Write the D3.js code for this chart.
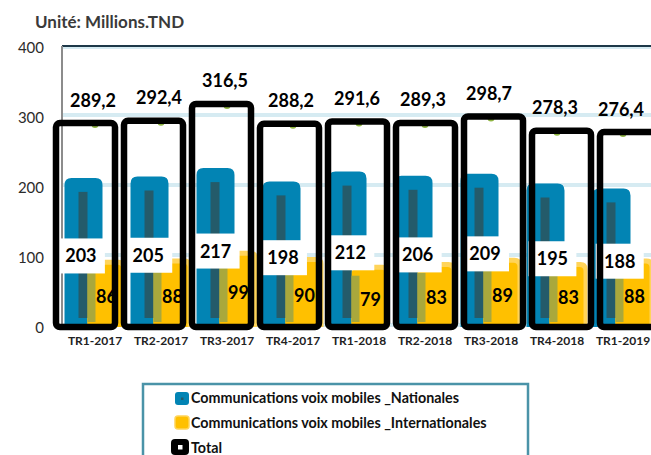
<!DOCTYPE html>
<html><head><meta charset="utf-8">
<script src="https://cdn.jsdelivr.net/npm/d3@7/dist/d3.min.js"></script>
<style>
html,body{margin:0;padding:0;background:#fff;}
svg{display:block;font-family:Lato,"Open Sans",sans-serif;}
</style></head>
<body>
<svg id="c" width="651" height="455"></svg>
<script>
const categories = ["TR1-2017","TR2-2017","TR3-2017","TR4-2017","TR1-2018","TR2-2018","TR3-2018","TR4-2018","TR1-2019"];
const nationales = [203,205,217,198,212,206,209,195,188];
const internationales = [86,88,99,90,79,83,89,83,88];
const total = [289.2,292.4,316.5,288.2,291.6,289.3,298.7,278.3,276.4];
const yTicks = [0,100,200,300,400];
const totalLabels = ["289,2","292,4","316,5","288,2","291,6","289,3","298,7","278,3","276,4"];
const seriesNames = ["Communications voix mobiles _Nationales","Communications voix mobiles _Internationales","Total"];

const svg = d3.select("#c");
const y = d3.scaleLinear().domain([0,400]).range([327,47]);
const x = d3.scaleBand().domain(categories).range([62,656]);
const xT = d3.scaleBand().domain(categories).range([51.5,663.5]);
const xL = d3.scaleBand().domain(categories).range([47.2,653.4]);
const bw = x.bandwidth();
const cx = c => x(c) + bw/2;
const cb = c => cx(c) - 11.5;
const cT = c => xT(c) + xT.bandwidth()/2;
const cL = c => xL(c) + xL.bandwidth()/2;

const data = categories.map((c,i)=>({c, n:nationales[i], it:internationales[i], t:total[i], tl:totalLabels[i]}));

// title
svg.append("text").attr("x",35).attr("y",28).attr("font-size",17).attr("font-weight","bold")
  .attr("fill","#3a3a3a").text("Unité: Millions.TND");

// gridlines
svg.append("g").selectAll("line").data(yTicks.slice(0,4)).join("line")
  .attr("x1",62).attr("x2",651).attr("y1",d=>y(d)-2).attr("y2",d=>y(d)-2)
  .attr("stroke","#d6ebf2").attr("stroke-width",4);

// top border & y axis line
svg.append("line").attr("x1",62).attr("x2",651).attr("y1",y(400)+1).attr("y2",y(400)+1).attr("stroke","#d6ebf2").attr("stroke-width",2);
svg.append("line").attr("x1",62).attr("x2",651).attr("y1",y(400)-1).attr("y2",y(400)-1).attr("stroke","#1d3848").attr("stroke-width",2);
svg.append("line").attr("x1",62).attr("x2",62).attr("y1",y(400)-1).attr("y2",y(0)).attr("stroke","#8c8c8c").attr("stroke-width",2);

// y axis labels
const ya = svg.append("g").attr("transform","translate(52,0)")
  .call(d3.axisLeft(y).tickValues(yTicks).tickSize(0).tickPadding(8));
ya.select(".domain").remove();
ya.selectAll("text").attr("font-size",15).attr("font-family","Lato,sans-serif").attr("fill","#2b2b2b").attr("dy","0.35em");

// x axis labels
const xa = svg.append("g").attr("transform","translate(0,336)")
  .call(d3.axisBottom(x).tickSize(0).tickPadding(0));
xa.select(".domain").remove();
xa.selectAll("text").attr("font-size",12).attr("font-weight","bold").attr("font-family","Lato,sans-serif").attr("fill","#222").attr("dy","0.71em");

function topRounded(x0,x1,yt,yb,r){
  return `M${x0},${yb}L${x0},${yt+r}Q${x0},${yt} ${x0+r},${yt}L${x1-r},${yt}Q${x1},${yt} ${x1},${yt+r}L${x1},${yb}Z`;
}

const g = svg.append("g");
// blue glow bars
g.selectAll(".bn").data(data).join("path").attr("class","bn")
  .attr("d",d=>topRounded(cb(d.c)-19, cb(d.c)+19, y(d.n)-7, y(0), 7))
  .attr("fill","#0284b4");
// yellow glow bars (light outer, solid inner)
g.selectAll(".bil").data(data).join("path").attr("class","bil")
  .attr("d",d=>topRounded(cb(d.c)+4, cb(d.c)+42, y(d.it)-7, y(0), 7))
  .attr("fill","#ffd45a");
g.selectAll(".bi").data(data).join("path").attr("class","bi")
  .attr("d",d=>topRounded(cb(d.c)+4, cb(d.c)+38, y(d.it)-2, y(0), 4))
  .attr("fill","#ffc000");
// dark teal inner
g.selectAll(".dn").data(data).join("rect").attr("class","dn")
  .attr("x",d=>cb(d.c)-5).attr("width",9).attr("y",d=>y(d.n)+7).attr("height",d=>318-(y(d.n)+7))
  .attr("fill","#245b6a");
// olive inner
g.selectAll(".di").data(data).join("rect").attr("class","di")
  .attr("x",d=>cb(d.c)+4).attr("width",8).attr("y",d=>y(d.it)+4).attr("height",d=>322-(y(d.it)+4))
  .attr("fill","#a9a83c");

// nationales label boxes
g.selectAll(".lb").data(data).join("rect").attr("class","lb")
  .attr("x",d=>cL(d.c)-24).attr("width",48)
  .attr("y",d=>(y(d.n)+y(0))/2-17.5).attr("height",35).attr("fill","#fff");
g.selectAll(".ln").data(data).join("text").attr("class","ln")
  .attr("x",d=>cL(d.c)).attr("y",d=>(y(d.n)+y(0))/2).attr("dy","0.36em")
  .attr("text-anchor","middle").attr("font-size",18).attr("font-weight","bold").attr("fill","#000")
  .text(d=>d.n);
// internationales labels
g.selectAll(".li").data(data).join("text").attr("class","li")
  .attr("x",d=>cb(d.c)+23).attr("y",d=>(y(d.it)+y(0))/2).attr("dy","0.36em")
  .attr("text-anchor","middle").attr("font-size",18).attr("font-weight","bold").attr("fill","#000")
  .text(d=>d.it);

// green dots
g.selectAll(".dot").data(data).join("circle").attr("class","dot")
  .attr("cx",d=>cx(d.c)).attr("cy",d=>y(d.t)).attr("r",3.5).attr("fill","#8fb542");

// total boxes
g.selectAll(".tb").data(data).join("rect").attr("class","tb")
  .attr("x",d=>cT(d.c)-29.5).attr("width",59)
  .attr("y",d=>y(d.t)-1.5).attr("height",d=>y(0)-y(d.t)+1.5)
  .attr("rx",4).attr("fill","none").attr("stroke","#000").attr("stroke-width",6.5);

// total labels
g.selectAll(".lt").data(data).join("text").attr("class","lt")
  .attr("x",d=>cx(d.c)-2).attr("y",d=>y(d.t)-18)
  .attr("text-anchor","middle").attr("font-size",18).attr("font-weight","bold").attr("fill","#000")
  .text(d=>d.tl);

// legend
const lg = svg.append("g");
lg.append("rect").attr("x",143).attr("y",384).attr("width",385).attr("height",90)
  .attr("fill","#fff").attr("stroke","#4a93a8").attr("stroke-width",2.5);
const rows = [403,428,453];
lg.append("rect").attr("x",175).attr("y",392).attr("width",14).attr("height",13).attr("rx",3).attr("fill","#0284b4");
lg.append("rect").attr("x",181).attr("y",397.5).attr("width",2.5).attr("height",2.5).attr("fill","#245b6a");
lg.append("rect").attr("x",175).attr("y",416).attr("width",14).attr("height",13).attr("rx",3).attr("fill","#ffc000").attr("stroke","#ffd45a").attr("stroke-width",1.5);
lg.append("rect").attr("x",171).attr("y",439).attr("width",18).attr("height",16).attr("rx",4).attr("fill","#000");
lg.append("rect").attr("x",178).attr("y",445).attr("width",4.5).attr("height",4.5).attr("fill","#fff");
lg.selectAll(".lt2").data(seriesNames).join("text").attr("class","lt2")
  .attr("x",191).attr("y",(d,i)=>rows[i]).attr("font-size",14.3).attr("font-weight","bold").attr("fill","#111")
  .text(d=>d);
</script>
</body></html>
